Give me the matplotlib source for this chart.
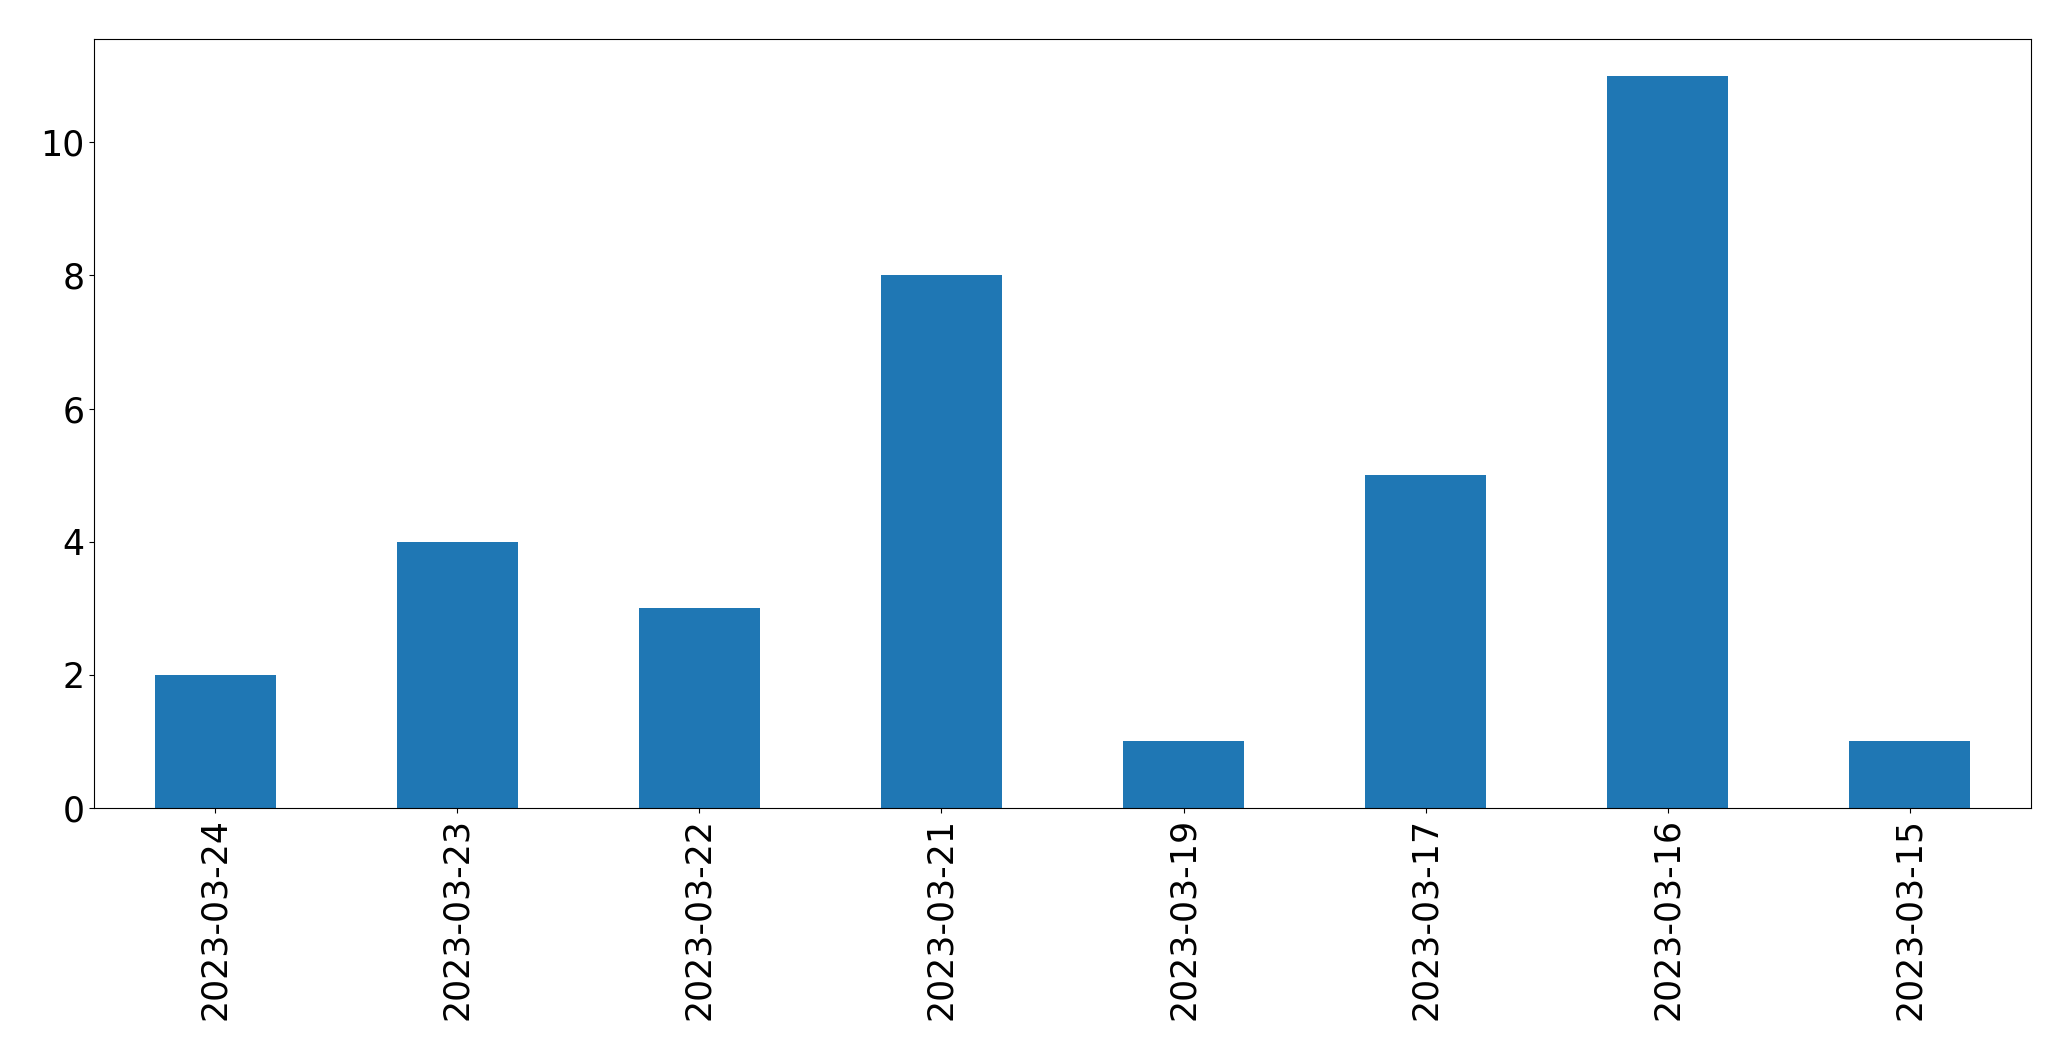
import matplotlib
matplotlib.use("Agg")
import matplotlib.pyplot as plt

# counts per day
dates = ["2023-03-24", "2023-03-23", "2023-03-22", "2023-03-21",
         "2023-03-19", "2023-03-17", "2023-03-16", "2023-03-15"]
counts = [2, 4, 3, 8, 1, 5, 11, 1]

fig = plt.figure(figsize=(20.71, 10.61), dpi=100)
ax = fig.add_subplot(111)
fig.subplots_adjust(left=0.0454, right=0.9807, top=0.9632, bottom=0.2385)

pos = list(range(len(dates)))
ax.bar(pos, counts, width=0.5, color="#1f77b4")
ax.set_xticks(pos)
ax.set_xticklabels(dates, rotation=90)
ax.set_xlim(-0.5, len(dates) - 0.5)
ax.tick_params(axis="both", labelsize=25)

plt.savefig("out.png", dpi=100)
